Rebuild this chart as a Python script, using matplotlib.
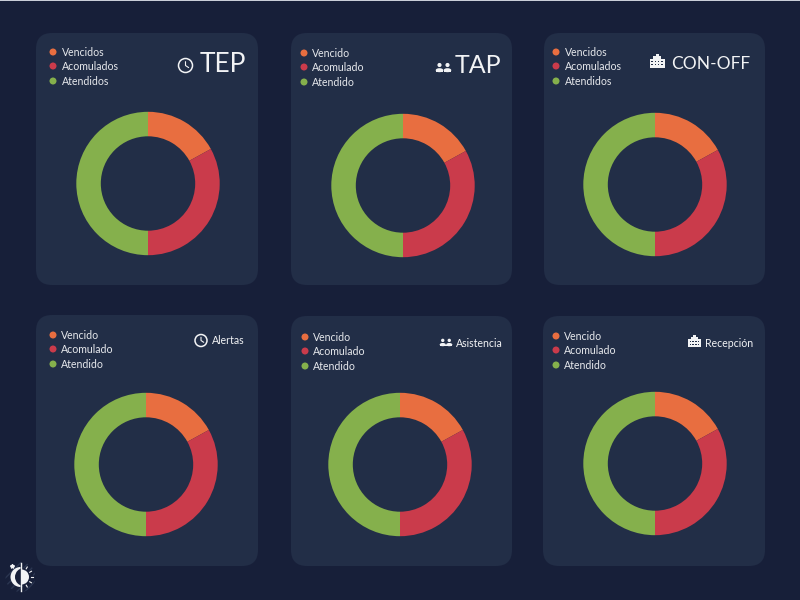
import numpy as np
import matplotlib
matplotlib.use('Agg')
import matplotlib.pyplot as plt
from matplotlib.patches import FancyBboxPatch, Circle, Rectangle, Wedge, Ellipse

plt.rcParams['font.family'] = ['Lato', 'DejaVu Sans']

# every donut shows the same split
values = [17, 33, 50]
colors = ['#e86e40', '#ca3b4b', '#85b04c']
labels_plural = ['Vencidos', 'Acomulados', 'Atendidos']
labels_single = ['Vencido', 'Acomulado', 'Atendido']
titles = ['TEP', 'TAP', 'CON-OFF', 'Alertas', 'Asistencia', 'Recepción']

bg = '#171f39'
card = '#222e47'
white = '#f2f3f5'

fig = plt.figure(figsize=(8, 6), dpi=100, facecolor=bg)
page = fig.add_axes([0, 0, 1, 1])
page.set_xlim(0, 800)
page.set_ylim(600, 0)
page.axis('off')
page.set_aspect('equal')


def clock(x, y, r):
    page.add_patch(Circle((x, y), r, fc='none', ec=white, lw=1.1))
    page.plot([x, x, x + r * 0.45], [y - r * 0.55, y, y + r * 0.3], color=white, lw=0.8, solid_capstyle='round')


def people(x, y, s):
    for dx in (-0.5, 0.5):
        page.add_patch(Circle((x + dx * s, y - 0.25 * s), 0.26 * s, fc=white, ec='none'))
        page.add_patch(Ellipse((x + dx * s, y + 0.4 * s), 0.95 * s, 0.5 * s, fc=white, ec='none'))
        page.add_patch(Rectangle((x + dx * s - 0.47 * s, y + 0.4 * s), 0.94 * s, 0.2 * s, fc=white, ec='none'))


def building(x, y, s):
    page.add_patch(Rectangle((x - s, y - 0.4 * s), 2 * s, 1.2 * s, fc=white, ec='none'))
    page.add_patch(Rectangle((x - 0.5 * s, y - 0.8 * s), s, 0.5 * s, fc=white, ec='none'))
    page.add_patch(Rectangle((x - 0.2 * s, y - 1.05 * s), 0.4 * s, 0.3 * s, fc=white, ec='none'))
    for wx in (-0.65, -0.22, 0.22, 0.65):
        for wy in (-0.1, 0.35):
            page.add_patch(Rectangle((x + wx * s - 0.09 * s, y + wy * s - 0.09 * s), 0.18 * s, 0.18 * s, fc=card, ec='none'))


# x0, y0, x1, y1, donut cx, cy, legend x, legend y, labels, title x, title y, title size, icon
panels = [
    (36, 33, 258, 285, 148, 183.5, 53, 52, labels_plural, 200, 64, 19, ('clock', 185.5, 65.5, 7)),
    (291, 33, 512, 285, 403, 185.5, 304, 53, labels_single, 455, 65.5, 18, ('people', 443.5, 67, 8)),
    (544, 33, 765, 285, 655, 184.5, 556, 52, labels_plural, 671.5, 64, 12.5, ('building', 657, 62, 7.5)),
    (36, 315, 258, 566, 146, 464.5, 53, 335, labels_single, 212, 340.5, 7.6, ('clock', 201, 340.5, 6)),
    (291, 316, 512, 566, 400, 464.5, 305, 337, labels_single, 456, 343.5, 7.6, ('people', 446, 342, 6.5)),
    (543, 316, 765, 566, 655, 463.5, 556, 336, labels_single, 705, 343.5, 7.6, ('building', 694.5, 342, 6.5)),
]

row_gap = [0, 14, 29]

for title, p in zip(titles, panels):
    x0, y0, x1, y1, cx, cy, lx, ly, labs, tx, ty, ts, icon = p
    page.add_patch(FancyBboxPatch((x0 + 16, y0 + 16), x1 - x0 - 32, y1 - y0 - 32,
                                  boxstyle='round,pad=16,rounding_size=16', fc=card, ec='none'))
    # donut in its own axes, sized in pixels
    R = 71.7
    ax = fig.add_axes([(cx - R) / 800, 1 - (cy + R) / 600, 2 * R / 800, 2 * R / 600])
    ax.pie(values, colors=colors, startangle=90, counterclock=False, radius=1,
           wedgeprops={'width': 24.5 / R, 'linewidth': 0})
    ax.set_xlim(-1, 1)
    ax.set_ylim(-1, 1)
    # legend
    off = 9 if labs is labels_plural else 8
    for i, lab in enumerate(labs):
        yy = ly + row_gap[i]
        page.add_patch(Circle((lx, yy), 3.5, fc=colors[i], ec='none'))
        page.text(lx + off, yy + 0.7, lab, color='#e6e8ec', fontsize=7.6, va='center', ha='left')
    page.text(tx, ty, title, color=white, fontsize=ts, va='center', ha='left')
    if icon[0] == 'clock':
        clock(icon[1], icon[2], icon[3])
    elif icon[0] == 'people':
        people(icon[1], icon[2], icon[3])
    else:
        building(icon[1], icon[2], icon[3])

# theme toggle bottom left
page.add_patch(Circle((20.5, 577), 15, fc='none', ec='#2a3550', hatch='////', lw=0))
page.add_patch(Wedge((20.5, 577), 10, 90, 270, fc=white, ec='none'))
page.add_patch(Circle((24, 577), 9, fc=bg, ec='none'))
page.add_patch(Wedge((21.5, 577), 7.5, -90, 90, fc=white, ec='none'))
page.plot([20.5, 20.5], [563, 591], color=white, lw=1)
for a in np.radians([-60, -30, 0, 30, 60]):
    page.plot([21.5 + 9.5 * np.cos(a), 21.5 + 11.5 * np.cos(a)], [577 + 9.5 * np.sin(a), 577 + 11.5 * np.sin(a)], color=white, lw=0.8)
page.plot([11.5], [566], marker='*', color=white, ms=3)

# thin light line along the top of the page
page.add_patch(Rectangle((0, 0), 800, 1.2, fc='#c9ced8', ec='none'))

fig.savefig('out.png', dpi=100, facecolor=bg)
